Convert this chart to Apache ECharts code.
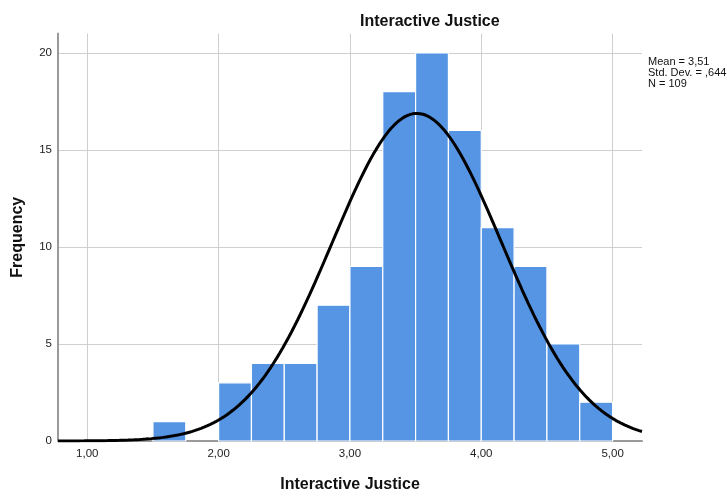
<!DOCTYPE html>
<html>
<head>
<meta charset="utf-8">
<script src="https://cdn.jsdelivr.net/npm/echarts@6/dist/echarts.min.js"></script>
<style>
  html, body { margin: 0; padding: 0; background: #fff; }
  #chart { width: 727px; height: 498px; }
</style>
</head>
<body>
<div id="chart"></div>
<script>
// Histogram bins (lower edges, width 0.25) and their frequencies
const binStarts = [1.50, 2.00, 2.25, 2.50, 2.75, 3.00, 3.25, 3.50, 3.75, 4.00, 4.25, 4.50, 4.75];
const binWidth = 0.25;
const frequencies = [1, 3, 4, 4, 7, 9, 18, 20, 16, 11, 9, 5, 2];

// Summary statistics shown beside the plot
const meanValue = 3.51;
const stdDev = 0.644;
const sampleSize = 109;
const statLines = ['Mean = 3,51', 'Std. Dev. = ,644', 'N = 109'];

// Axis ticks
const xTicks = [1, 2, 3, 4, 5];
const xTickLabels = ['1,00', '2,00', '3,00', '4,00', '5,00'];
const yTicks = [0, 5, 10, 15, 20];

const xMin = 0.777, xMax = 5.224;

// Fitted normal curve scaled to counts per bin
const curve = [];
const steps = 200;
for (let i = 0; i <= steps; i++) {
  const x = xMin + (xMax - xMin) * i / steps;
  const z = (x - meanValue) / stdDev;
  const y = sampleSize * binWidth * Math.exp(-0.5 * z * z) / (stdDev * Math.sqrt(2 * Math.PI));
  curve.push([x, y]);
}

const barData = binStarts.map((s, i) => [s, s + binWidth, frequencies[i]]);

const chart = echarts.init(document.getElementById('chart'), null, { renderer: 'canvas' });
const font = 'Arial, "Liberation Sans", sans-serif';

chart.setOption({
  animation: false,
  backgroundColor: '#ffffff',
  title: {
    text: 'Interactive Justice',
    left: 355,
    top: 9,
    textStyle: { fontFamily: font, fontSize: 16, fontWeight: 'bold', color: '#111' }
  },
  graphic: [{
    type: 'text',
    left: 648,
    top: 56,
    style: {
      text: statLines.join('\n'),
      font: '11px ' + font,
      lineHeight: 11,
      fill: '#111'
    }
  }],
  grid: { left: 58, right: 85, top: 33.5, bottom: 55 },
  xAxis: {
    type: 'value',
    min: xMin,
    max: xMax,
    name: 'Interactive Justice',
    nameLocation: 'middle',
    nameGap: 36,
    nameTextStyle: { fontFamily: font, fontSize: 16, fontWeight: 'bold', color: '#111' },
    axisLine: { show: true, lineStyle: { color: '#9a9a9a', width: 2 } },
    axisTick: { show: false, customValues: xTicks },
    axisLabel: {
      customValues: xTicks,
      formatter: v => xTickLabels[xTicks.indexOf(Math.round(v))] || '',
      fontFamily: font, fontSize: 11.5, color: '#222', margin: 7
    },
    splitLine: { show: true, lineStyle: { color: '#cfcfcf', width: 1 } }
  },
  yAxis: {
    type: 'value',
    min: 0,
    max: 21,
    name: 'Frequency',
    nameLocation: 'middle',
    nameGap: 32,
    nameTextStyle: { fontFamily: font, fontSize: 16, fontWeight: 'bold', color: '#111' },
    axisLine: { show: true, lineStyle: { color: '#9a9a9a', width: 2 } },
    axisTick: { show: false, customValues: yTicks },
    axisLabel: { customValues: yTicks, fontFamily: font, fontSize: 11.5, color: '#222', margin: 6 },
    splitLine: { show: true, lineStyle: { color: '#cfcfcf', width: 1 } }
  },
  series: [
    {
      type: 'custom',
      z: 2,
      renderItem: (params, api) => {
        const p0 = api.coord([api.value(0), api.value(2)]);
        const p1 = api.coord([api.value(1), 0]);
        return {
          type: 'rect',
          shape: { x: p0[0], y: p0[1], width: p1[0] - p0[0], height: p1[1] - p0[1] },
          style: { fill: '#5595e3', stroke: '#ffffff', lineWidth: 1.2 }
        };
      },
      encode: { x: [0, 1], y: 2 },
      data: barData
    },
    {
      type: 'line',
      z: 3,
      data: curve,
      showSymbol: false,
      smooth: false,
      lineStyle: { color: '#000', width: 3 }
    }
  ]
});
</script>
</body>
</html>
